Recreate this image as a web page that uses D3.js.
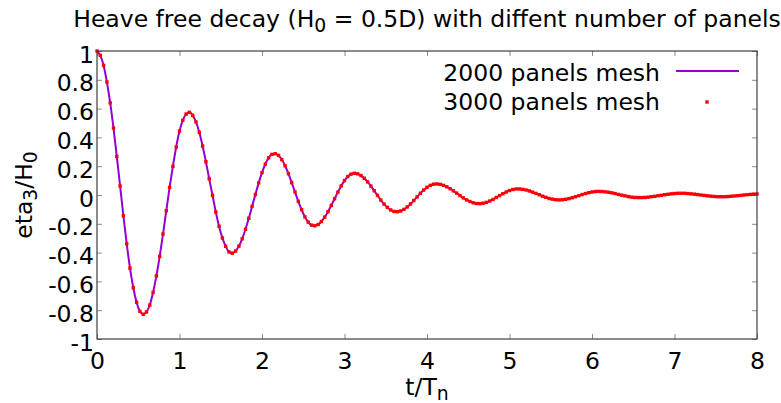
<!DOCTYPE html>
<html>
<head>
<meta charset="utf-8">
<script src="https://cdn.jsdelivr.net/npm/d3@7"></script>
<style>
  html, body { margin: 0; padding: 0; background: #ffffff; }
  svg { display: block; }
  text { font-family: "DejaVu Sans", Verdana, sans-serif; fill: #000; }
</style>
</head>
<body>
<svg id="chart" width="781" height="403"></svg>
<script>
// ---- data ----
const timeStep = 0.04;           // t/Tn spacing of the samples
const xTickValues = [0, 1, 2, 3, 4, 5, 6, 7, 8];
const yTickValues = [-1, -0.8, -0.6, -0.4, -0.2, 0, 0.2, 0.4, 0.6, 0.8, 1];
const yTickLabels = ["-1", "-0.8", "-0.6", "-0.4", "-0.2", "0", "0.2", "0.4", "0.6", "0.8", "1"];
const xTickLabels = ["0", "1", "2", "3", "4", "5", "6", "7", "8"];
const seriesNames = ["2000 panels mesh", "3000 panels mesh"];

const eta2000 = [
  1.000, 0.970, 0.900, 0.785, 0.640, 0.465, 0.268, 0.063, -0.144, -0.338,
  -0.508, -0.644, -0.745, -0.808, -0.828, -0.812, -0.764, -0.676, -0.562, -0.426,
  -0.271, -0.109, 0.053, 0.199, 0.333, 0.444, 0.519, 0.562, 0.574, 0.553,
  0.507, 0.435, 0.340, 0.231, 0.113, -0.002, -0.118, -0.218, -0.299, -0.356,
  -0.395, -0.404, -0.389, -0.355, -0.304, -0.238, -0.162, -0.079, 0.004, 0.084,
  0.155, 0.214, 0.258, 0.282, 0.287, 0.275, 0.246, 0.203, 0.148, 0.086,
  0.021, -0.044, -0.102, -0.152, -0.188, -0.209, -0.214, -0.205, -0.184, -0.154,
  -0.116, -0.072, -0.026, 0.020, 0.063, 0.100, 0.128, 0.145, 0.151, 0.147,
  0.135, 0.116, 0.091, 0.062, 0.030, -0.003, -0.035, -0.063, -0.086, -0.104,
  -0.114, -0.116, -0.111, -0.100, -0.083, -0.062, -0.038, -0.013, 0.012, 0.034,
  0.053, 0.067, 0.075, 0.077, 0.074, 0.067, 0.057, 0.044, 0.029, 0.013,
  -0.004, -0.020, -0.034, -0.045, -0.054, -0.059, -0.060, -0.057, -0.051, -0.042,
  -0.031, -0.017, -0.004, 0.009, 0.021, 0.031, 0.038, 0.042, 0.042, 0.039,
  0.035, 0.028, 0.020, 0.011, 0.002, -0.008, -0.016, -0.024, -0.029, -0.033,
  -0.034, -0.033, -0.030, -0.025, -0.019, -0.012, -0.005, 0.003, 0.010, 0.016,
  0.021, 0.024, 0.025, 0.024, 0.022, 0.019, 0.015, 0.010, 0.004, -0.001,
  -0.006, -0.011, -0.015, -0.017, -0.018, -0.018, -0.017, -0.015, -0.012, -0.009,
  -0.005, -0.002, 0.002, 0.005, 0.008, 0.010, 0.012, 0.012, 0.012, 0.010,
  0.008, 0.006, 0.003, 0.000, -0.003, -0.006, -0.008, -0.010, -0.012, -0.012,
  -0.012, -0.011, -0.009, -0.007, -0.005, -0.003, 0.000, 0.002, 0.004, 0.006,
  0.007
];
const eta3000 = [
  1.000, 0.970, 0.900, 0.785, 0.640, 0.465, 0.268, 0.063, -0.144, -0.338,
  -0.508, -0.644, -0.745, -0.808, -0.828, -0.812, -0.764, -0.676, -0.562, -0.426,
  -0.271, -0.109, 0.053, 0.199, 0.333, 0.444, 0.519, 0.562, 0.574, 0.553,
  0.507, 0.435, 0.340, 0.231, 0.113, -0.002, -0.118, -0.218, -0.299, -0.356,
  -0.395, -0.404, -0.389, -0.355, -0.304, -0.238, -0.162, -0.079, 0.004, 0.084,
  0.155, 0.214, 0.258, 0.282, 0.287, 0.275, 0.246, 0.203, 0.148, 0.086,
  0.021, -0.044, -0.102, -0.152, -0.188, -0.209, -0.214, -0.205, -0.184, -0.154,
  -0.116, -0.072, -0.026, 0.020, 0.063, 0.100, 0.128, 0.145, 0.151, 0.147,
  0.135, 0.116, 0.091, 0.062, 0.030, -0.003, -0.035, -0.063, -0.086, -0.104,
  -0.114, -0.116, -0.111, -0.100, -0.083, -0.062, -0.038, -0.013, 0.012, 0.034,
  0.053, 0.067, 0.075, 0.077, 0.074, 0.067, 0.057, 0.044, 0.029, 0.013,
  -0.004, -0.020, -0.034, -0.045, -0.054, -0.059, -0.060, -0.057, -0.051, -0.042,
  -0.031, -0.017, -0.004, 0.009, 0.021, 0.031, 0.038, 0.042, 0.042, 0.039,
  0.035, 0.028, 0.020, 0.011, 0.002, -0.008, -0.016, -0.024, -0.029, -0.033,
  -0.034, -0.033, -0.030, -0.025, -0.019, -0.012, -0.005, 0.003, 0.010, 0.016,
  0.021, 0.024, 0.025, 0.024, 0.022, 0.019, 0.015, 0.010, 0.004, -0.001,
  -0.006, -0.011, -0.015, -0.017, -0.018, -0.018, -0.017, -0.015, -0.012, -0.009,
  -0.005, -0.002, 0.002, 0.005, 0.008, 0.010, 0.012, 0.012, 0.012, 0.010,
  0.008, 0.006, 0.003, 0.000, -0.003, -0.006, -0.008, -0.010, -0.012, -0.012,
  -0.012, -0.011, -0.009, -0.007, -0.005, -0.003, 0.000, 0.002, 0.004, 0.006,
  0.007
];

// ---- layout ----
const plot = { left: 97, right: 757, top: 51, bottom: 339 };
const fontSize = 23.5;
const borderColor = "#404040";
const tickColor = "#8a8a8a";
const lineColor = "#9400d3";
const dotColor = "#ff0000";

const svg = d3.select("#chart");

const x = d3.scaleLinear().domain([0, 8]).range([plot.left, plot.right]);
const y = d3.scaleLinear().domain([-1, 1]).range([plot.bottom, plot.top]);

const xFmt = v => xTickLabels[xTickValues.indexOf(v)];
const yFmt = v => yTickLabels[yTickValues.indexOf(v)];

// axes: inward ticks, labels outside
const gx = svg.append("g").attr("transform", `translate(0,${plot.bottom})`)
  .call(d3.axisBottom(x).tickValues(xTickValues).tickFormat(xFmt).tickSizeInner(-5).tickSizeOuter(0));
gx.select(".domain").remove();
gx.selectAll(".tick line").attr("stroke", tickColor);
gx.selectAll(".tick text").attr("dy", null).attr("y", 30)
  .style("font-size", fontSize + "px").style("font-family", "DejaVu Sans").attr("fill", "#000");

const gxTop = svg.append("g").attr("transform", `translate(0,${plot.top})`)
  .call(d3.axisTop(x).tickValues(xTickValues).tickFormat("").tickSizeInner(-5).tickSizeOuter(0));
gxTop.select(".domain").remove();
gxTop.selectAll(".tick line").attr("stroke", tickColor);

const gy = svg.append("g").attr("transform", `translate(${plot.left},0)`)
  .call(d3.axisLeft(y).tickValues(yTickValues).tickFormat(yFmt).tickSizeInner(-5).tickSizeOuter(0));
gy.select(".domain").remove();
gy.selectAll(".tick line").attr("stroke", tickColor);
gy.selectAll(".tick text").attr("dy", null).attr("x", -3).attr("y", 11)
  .style("font-size", fontSize + "px").style("font-family", "DejaVu Sans").attr("fill", "#000");

const gyRight = svg.append("g").attr("transform", `translate(${plot.right},0)`)
  .call(d3.axisRight(y).tickValues(yTickValues).tickFormat("").tickSizeInner(-5).tickSizeOuter(0));
gyRight.select(".domain").remove();
gyRight.selectAll(".tick line").attr("stroke", tickColor);

// series
const pts2000 = eta2000.map((v, i) => ({ t: i * timeStep, v }));
const pts3000 = eta3000.map((v, i) => ({ t: i * timeStep, v }));

const line = d3.line().x(d => x(d.t)).y(d => y(d.v)).curve(d3.curveMonotoneX);
svg.append("path").datum(pts2000)
  .attr("d", line).attr("fill", "none").attr("stroke", lineColor).attr("stroke-width", 2);

const ds = 3.4;
svg.append("g").selectAll("rect").data(pts3000).join("rect")
  .attr("x", d => x(d.t) - ds / 2).attr("y", d => y(d.v) - ds / 2)
  .attr("width", ds).attr("height", ds).attr("fill", dotColor);

// border
svg.append("rect").attr("x", plot.left).attr("y", plot.top)
  .attr("width", plot.right - plot.left).attr("height", plot.bottom - plot.top)
  .attr("fill", "none").attr("stroke", borderColor).attr("stroke-width", 1.2);

// title
const title = svg.append("text").attr("x", (plot.left + plot.right) / 2).attr("y", 27)
  .attr("text-anchor", "middle").style("font-size", fontSize + "px");
title.append("tspan").text("Heave free decay (H");
title.append("tspan").attr("dy", 5).style("font-size", (fontSize * 0.8) + "px").text("0");
title.append("tspan").attr("dy", -5).text(" = 0.5D) with diffent number of panels");

// axis labels
const xl = svg.append("text").attr("x", (plot.left + plot.right) / 2).attr("y", 395)
  .attr("text-anchor", "middle").style("font-size", fontSize + "px");
xl.append("tspan").text("t/T");
xl.append("tspan").attr("dy", 5).style("font-size", (fontSize * 0.8) + "px").text("n");

const yl = svg.append("text").attr("transform", `translate(32,${(plot.top + plot.bottom) / 2}) rotate(-90)`)
  .attr("text-anchor", "middle").style("font-size", fontSize + "px");
yl.append("tspan").text("eta");
yl.append("tspan").attr("dy", 5).style("font-size", (fontSize * 0.8) + "px").text("3");
yl.append("tspan").attr("dy", -5).text("/H");
yl.append("tspan").attr("dy", 5).style("font-size", (fontSize * 0.8) + "px").text("0");

// legend
const legendTextX = 660;
const legendRows = [71, 102];
svg.append("text").attr("x", legendTextX).attr("y", legendRows[0] + 10)
  .attr("text-anchor", "end").style("font-size", fontSize + "px").text(seriesNames[0]);
svg.append("line").attr("x1", 676).attr("x2", 739).attr("y1", legendRows[0]).attr("y2", legendRows[0])
  .attr("stroke", lineColor).attr("stroke-width", 2);
svg.append("text").attr("x", legendTextX).attr("y", legendRows[1] + 8)
  .attr("text-anchor", "end").style("font-size", fontSize + "px").text(seriesNames[1]);
svg.append("rect").attr("x", 707 - ds / 2).attr("y", legendRows[1] - ds / 2)
  .attr("width", ds).attr("height", ds).attr("fill", dotColor);
</script>
</body>
</html>
